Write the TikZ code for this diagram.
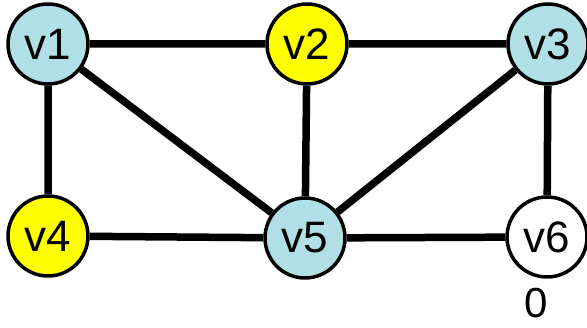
\documentclass[tikz,border=0pt]{standalone}
\usepackage{fontspec}
\setmainfont{Liberation Sans}
\usetikzlibrary{backgrounds}
\definecolor{vblue}{RGB}{176,224,230}
\definecolor{vyellow}{RGB}{255,255,0}
\tikzset{vert/.style={circle,draw,line width=3.5pt,minimum size=80pt,inner sep=0pt,font=\fontsize{44}{50}\selectfont},
	edge/.style={line width=7.5pt}}
\begin{document}
\begin{tikzpicture}[x=1pt,y=-1pt,line join=round]
			\useasboundingbox (0,0) rectangle (587,328);
			\node[vert,fill=vblue] (v1) at (48,44) {v1};
			\node[vert,fill=vyellow] (v2) at (307,44) {v2};
			\node[vert,fill=vblue] (v3) at (548,44) {v3};
			\node[vert,fill=vyellow] (v4) at (48,236) {v4};
			\node[vert,fill=vblue] (v5) at (305,238) {v5};
			\node[vert,fill=white] (v6) at (547,237) {v6};
			\node[font=\fontsize{42}{48}\selectfont,inner sep=0pt] (z) at (536,303) {0};
			\begin{scope}[on background layer]
			\draw[edge] (v1)--(v2) (v2)--(v3) (v1)--(v4) (v1)--(v5) (v2)--(v5) (v3)--(v5) (v3)--(v6) (v4)--(v5) (v5)--(v6);
			\end{scope}
		\end{tikzpicture}
\end{document}
